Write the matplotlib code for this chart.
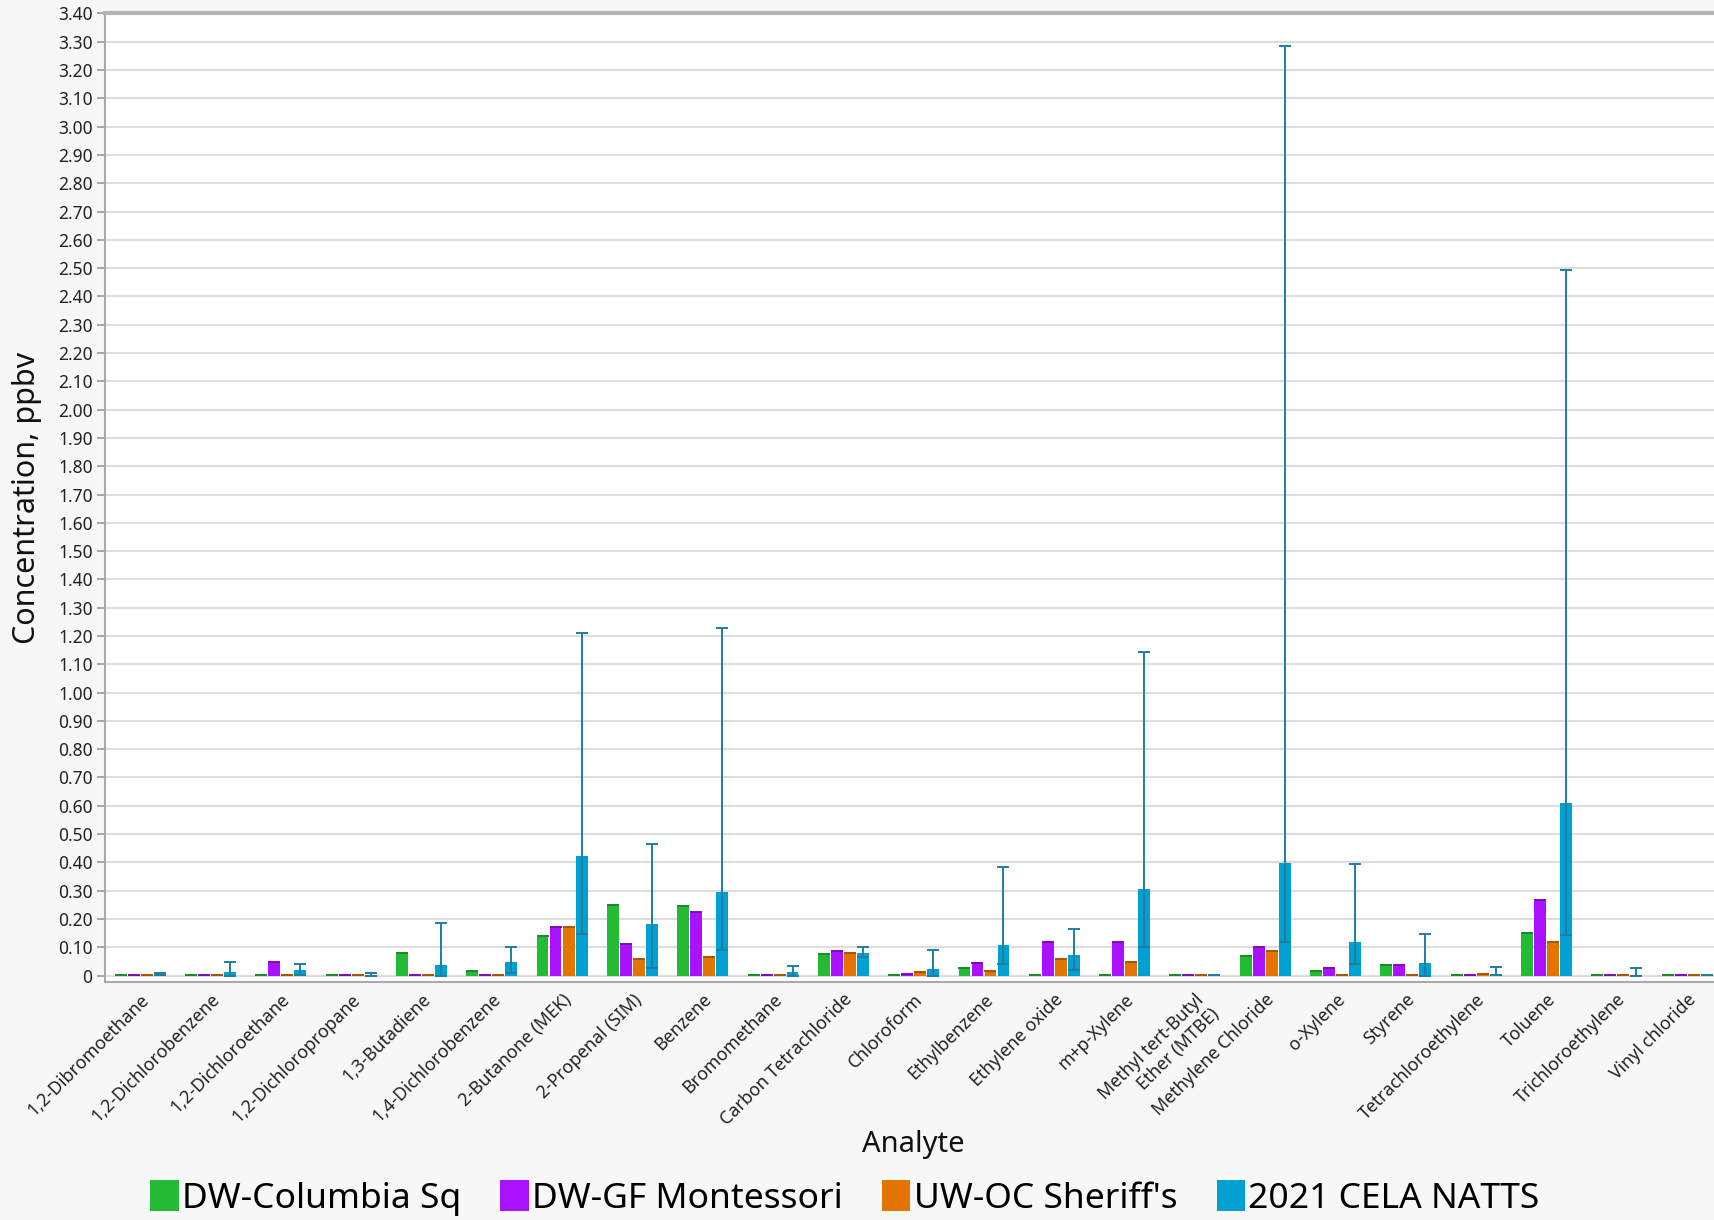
import numpy as np
import matplotlib
matplotlib.use('Agg')
import matplotlib.pyplot as plt
from matplotlib.ticker import FixedLocator, FixedFormatter

plt.rcParams['font.family'] = ['Noto Sans', 'DejaVu Sans']

categories = ["1,2-Dibromoethane", "1,2-Dichlorobenzene", "1,2-Dichloroethane",
              "1,2-Dichloropropane", "1,3-Butadiene", "1,4-Dichlorobenzene",
              "2-Butanone (MEK)", "2-Propenal (SIM)", "Benzene", "Bromomethane",
              "Carbon Tetrachloride", "Chloroform", "Ethylbenzene", "Ethylene oxide",
              "m+p-Xylene", "Methyl tert-Butyl\nEther (MTBE)", "Methylene Chloride",
              "o-Xylene", "Styrene", "Tetrachloroethylene", "Toluene",
              "Trichloroethylene", "Vinyl chloride"]

series_names = ["DW-Columbia Sq", "DW-GF Montessori", "UW-OC Sheriff's", "2021 CELA NATTS"]

columbia = [0.002, 0.002, 0.002, 0.002, 0.080, 0.015, 0.139, 0.251, 0.247, 0.002, 0.075, 0.002,
            0.027, 0.002, 0.002, 0.002, 0.069, 0.017, 0.036, 0.002, 0.149, 0.002, 0.002]
montessori = [0.002, 0.002, 0.048, 0.002, 0.002, 0.002, 0.172, 0.113, 0.225, 0.002, 0.086, 0.006,
              0.043, 0.118, 0.117, 0.002, 0.102, 0.027, 0.036, 0.002, 0.268, 0.002, 0.002]
sheriff = [0.002, 0.002, 0.002, 0.002, 0.002, 0.002, 0.171, 0.059, 0.065, 0.002, 0.081, 0.012,
           0.017, 0.059, 0.048, 0.002, 0.086, 0.002, 0.002, 0.004, 0.118, 0.002, 0.002]
natts = [0.006, 0.014, 0.021, 0.003, 0.036, 0.047, 0.424, 0.184, 0.294, 0.012, 0.081, 0.023,
         0.108, 0.071, 0.306, 0.002, 0.399, 0.119, 0.043, 0.005, 0.610, 0.003, 0.002]
natts_low = [0.001, 0.0, 0.003, 0.0, 0.0, 0.009, 0.148, 0.027, 0.092, 0.0, 0.064, 0.0,
             0.041, 0.020, 0.101, 0.002, 0.117, 0.041, 0.0, 0.001, 0.142, 0.0, 0.002]
natts_high = [0.010, 0.047, 0.042, 0.008, 0.187, 0.102, 1.210, 0.465, 1.230, 0.033, 0.102, 0.091,
              0.385, 0.166, 1.145, 0.002, 3.285, 0.395, 0.148, 0.032, 2.495, 0.026, 0.002]

yticks = [round(0.1 * i, 2) for i in range(35)]
ytick_labels = ["0"] + ["%.2f" % v for v in yticks[1:]]

colors = ["#22BB33", "#AA11FF", "#E37400", "#00A0D2"]
cap_colors = ["#178a24", "#7a0bbb", "#a65400", "#1f7ea1"]

fig = plt.figure(figsize=(17.14, 12.20), dpi=100)
fig.patch.set_facecolor("#F7F7F7")
ax = fig.add_axes([0.0613, 0.195, 0.9435, 0.794])
ax.set_facecolor("white")

x = np.arange(len(categories))
step = 0.185
width = 0.168
data = [columbia, montessori, sheriff, natts]
for i, vals in enumerate(data):
    pos = x + (i - 1.5) * step
    ax.bar(pos, vals, width, color=colors[i], label=series_names[i], zorder=3)
    if i < 3:
        # dark cap line at top of each bar
        ax.errorbar(pos, vals, yerr=0, fmt='none', ecolor=cap_colors[i],
                    capsize=4.5, capthick=1.2, elinewidth=0, zorder=4)

vals = np.array(natts)
lower = vals - np.array(natts_low)
upper = np.array(natts_high) - vals
ax.errorbar(x + 1.5 * step, vals, yerr=[lower, upper], fmt='none', ecolor="#1f7ea1",
            elinewidth=1.4, capsize=4, capthick=1.4, zorder=5)

ax.set_xlim(-0.5, len(categories) - 0.5)
ax.set_ylim(-0.023, 3.40)
ax.yaxis.set_major_locator(FixedLocator(yticks))
ax.yaxis.set_major_formatter(FixedFormatter(ytick_labels))
ax.grid(axis='y', color="#DDDDDD", linewidth=1.5, zorder=0)
ax.set_axisbelow(True)

ax.set_xticks(x)
ax.set_xticklabels(categories, rotation=45, ha='right', va='top',
                   rotation_mode='anchor', fontsize=12.8, color="#222222")
ax.tick_params(axis='x', length=0, pad=6)
ax.tick_params(axis='y', length=6, width=1.2, color="#999999", labelsize=12.5,
               labelcolor="#222222", pad=3)

for s in ['left', 'bottom']:
    ax.spines[s].set_color("#AAAAAA")
    ax.spines[s].set_linewidth(1.5)
ax.spines['top'].set_color("#B5B5B5")
ax.spines['top'].set_linewidth(3)
ax.spines['right'].set_visible(False)

fig.text(27 / 1714, 0.195 + 0.794 / 2, "Concentration, ppbv", rotation=90,
         ha='center', va='center', fontsize=22, color="#111111")
fig.text(0.0613 + 0.9435 / 2, 0.062, "Analyte", ha='center', va='center',
         fontsize=21, color="#111111")

fig.legend(loc='center', bbox_to_anchor=(0.493, 0.018), ncol=4, frameon=False,
           fontsize=25.5, handlelength=0.8, handleheight=0.95, handletextpad=0.1,
           columnspacing=1.1, borderaxespad=0)

fig.savefig("out.png", dpi=100, facecolor=fig.get_facecolor())
